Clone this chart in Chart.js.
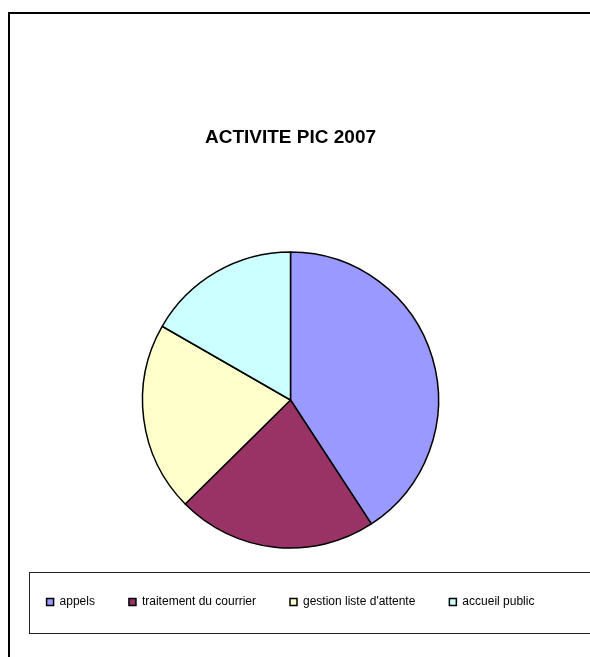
<!DOCTYPE html>
<html>
<head>
<meta charset="utf-8">
<script src="https://cdn.jsdelivr.net/npm/chart.js@4/dist/chart.umd.min.js"></script>
<style>
  html, body { margin: 0; padding: 0; background: #fff; }
  #wrap { width: 590px; height: 657px; }
</style>
</head>
<body>
<div id="wrap"><canvas id="picChart"></canvas></div>
<script>
const categories = ['appels', 'traitement du courrier', 'gestion liste d\'attente', 'accueil public'];
const shares = [40.8, 21.8, 20.7, 16.7];
const sliceColors = ['#9999FF', '#993366', '#FFFFCC', '#CCFFFF'];

// cadre extérieur + cadre de la légende (style Excel)
const framePlugin = {
    id: 'frames',
    afterDraw(chart) {
        const ctx = chart.ctx;
        ctx.save();
        ctx.strokeStyle = '#000';
        ctx.lineWidth = 2;
        ctx.strokeRect(9, 13, 700, 760);
        ctx.lineWidth = 1;
        ctx.strokeStyle = '#222';
        ctx.strokeRect(29.5, 572.5, 700, 61);
        ctx.restore();
    }
};

const ctx = document.getElementById('picChart').getContext('2d');
new Chart(ctx, {
    type: 'pie',
    data: {
        labels: categories,
        datasets: [{
            data: shares,
            backgroundColor: sliceColors,
            borderColor: '#000',
            borderWidth: 1.5,
            radius: 148
        }]
    },
    options: {
        responsive: true,
        maintainAspectRatio: false,
        animation: false,
        layout: {
            padding: { top: 0, bottom: 39, left: 0, right: 9 }
        },
        plugins: {
            title: {
                display: true,
                text: 'ACTIVITE PIC 2007',
                color: '#000',
                font: { family: "'Liberation Sans', Arial, sans-serif", size: 19, weight: 'bold', lineHeight: 1.2 },
                padding: { top: 126.6, bottom: 88.6 }
            },
            legend: {
                display: true,
                position: 'bottom',
                labels: {
                    color: '#000',
                    boxWidth: 7,
                    boxHeight: 7,
                    padding: 34,
                    font: { family: "'Liberation Sans', Arial, sans-serif", size: 12 }
                }
            },
            tooltip: { enabled: false }
        }
    },
    plugins: [framePlugin]
});
</script>
</body>
</html>
